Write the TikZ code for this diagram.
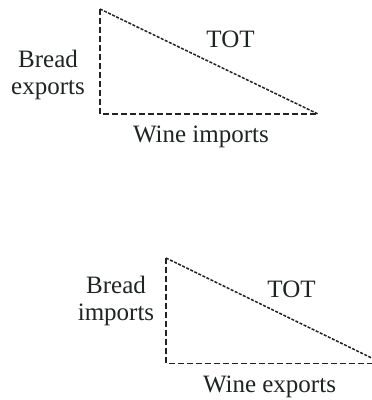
\documentclass[tikz,border=0pt]{standalone}
\usepackage{fontspec}
\setmainfont{Liberation Serif}
\definecolor{ink}{HTML}{1E2422}
\tikzset{
  lbl/.style={inner sep=0pt, text=ink, font=\fontsize{25}{27}\selectfont},
  leg/.style={draw=ink, line width=1.6pt, dash pattern=on 6pt off 3pt},
  hyp/.style={draw=ink, line width=1.5pt, dash pattern=on 3pt off 1.5pt},
}
\begin{document}
\begin{tikzpicture}[x=1pt,y=1pt]
\useasboundingbox (0,0) rectangle (372,400);
\clip (0,0) rectangle (372,400);
% top triangle
\coordinate (a1) at (100,391);
\coordinate (b1) at (100,286);
\coordinate (c1) at (318,286);
\draw[leg] (a1) -- (b1) -- (c1);
\draw[hyp] (a1) -- (c1);
\node[lbl, align=center] (be) at (48,325.3) {Bread\\exports};
\node[lbl, anchor=base] (tot1) at (230.5,352.7) {TOT};
\node[lbl, anchor=base] (wi) at (201,257) {Wine imports};
% bottom triangle
\coordinate (a2) at (166,142);
\coordinate (b2) at (166,36.5);
\coordinate (c2) at (383,36.5);
\draw[leg] (a2) -- (b2) -- (c2);
\draw[hyp] (a2) -- (c2);
\node[lbl, align=center] (bi) at (116,99) {Bread\\imports};
\node[lbl, anchor=base] (tot2) at (291.5,102.3) {TOT};
\node[lbl, anchor=base] (we) at (269.5,7) {Wine exports};
\end{tikzpicture}
\end{document}
